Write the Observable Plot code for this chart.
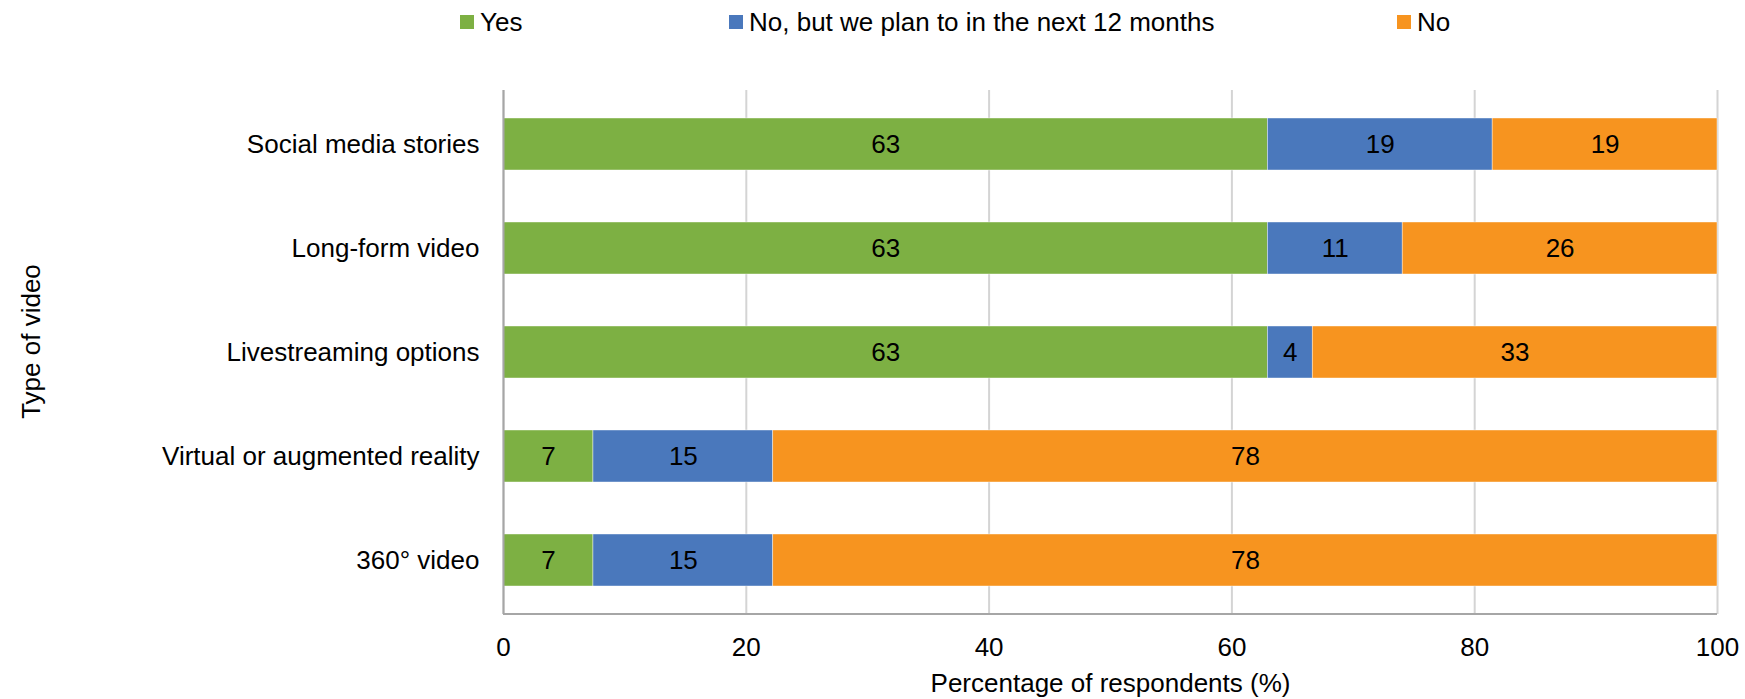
<!DOCTYPE html>
<html>
<head>
<meta charset="utf-8">
<script src="https://cdn.jsdelivr.net/npm/d3@7"></script>
<script src="https://cdn.jsdelivr.net/npm/@observablehq/plot@0.6"></script>
<style>
  body { margin: 0; background: white; font-family: 'Liberation Sans', Arial, sans-serif; }
  #legend { position: relative; width: 1745px; height: 45px; font-size: 26px; color: #000; }
  .item { position: absolute; top: 8px; display: flex; align-items: center; height: 28px; white-space: nowrap; }
  .sw { width: 14px; height: 14px; margin-right: 6px; }
</style>
</head>
<body>
<div id="legend"></div>
<div id="chart"></div>
<script>
const categories = ["Social media stories", "Long-form video", "Livestreaming options", "Virtual or augmented reality", "360° video"];
const responses = ["Yes", "No, but we plan to in the next 12 months", "No"];
const colors = ["#7DB043", "#4A78BC", "#F7941F"];
const yesValues = [62.96, 62.96, 62.96, 7.41, 7.41];
const planValues = [18.52, 11.11, 3.70, 14.81, 14.81];
const noValues = [18.52, 25.93, 33.33, 77.78, 77.78];
const xTicks = [0, 20, 40, 60, 80, 100];
const legendLeft = [460, 729, 1397];

const series = [yesValues, planValues, noValues];
const data = [];
categories.forEach((c, i) => {
  responses.forEach((r, j) => data.push({category: c, response: r, value: series[j][i]}));
});

// legend
const leg = document.getElementById("legend");
responses.forEach((r, j) => {
  const it = document.createElement("div");
  it.className = "item";
  it.style.left = legendLeft[j] + "px";
  const sw = document.createElement("div");
  sw.className = "sw";
  sw.style.background = colors[j];
  const tx = document.createElement("span");
  tx.textContent = r;
  it.appendChild(sw); it.appendChild(tx);
  leg.appendChild(it);
});

const bottomLine = (index, scales, values, dims) => {
  const g = d3.create("svg:line")
    .attr("x1", scales.x(0)).attr("x2", scales.x(100))
    .attr("y1", dims.height - dims.marginBottom).attr("y2", dims.height - dims.marginBottom)
    .attr("stroke", "#a6a6a6").attr("stroke-width", 2);
  return g.node();
};

const chart = Plot.plot({
  width: 1745,
  height: 654,
  marginTop: 45,
  marginBottom: 85,
  marginLeft: 503,
  marginRight: 28,
  style: {fontFamily: "'Liberation Sans', Arial, sans-serif", fontSize: "26px", color: "#000", background: "white", overflow: "visible"},
  x: {domain: [0, 100]},
  y: {domain: categories, paddingInner: 0.5, paddingOuter: 0.25},
  color: {domain: responses, range: colors},
  marks: [
    Plot.gridX(xTicks, {stroke: "#d4d4d4", strokeOpacity: 1, strokeWidth: 2}),
    Plot.barX(data, Plot.stackX({x: "value", y: "category", fill: "response", z: "response", stroke: "white", strokeWidth: 0.6, strokeOpacity: 0.7})),
    Plot.text(data, Plot.stackX({x: "value", y: "category", z: "response", text: d => String(Math.round(d.value)), fill: "#000", fontSize: 26})),
    Plot.ruleX([0], {stroke: "#a6a6a6", strokeWidth: 2}),
    bottomLine,
    Plot.axisY({tickSize: 0, tickPadding: 24, label: null, fontSize: 26}),
    Plot.axisX({ticks: xTicks, tickSize: 0, tickPadding: 23, label: null, fontSize: 26}),
    Plot.text(["Percentage of respondents (%)"], {frameAnchor: "bottom", dy: 77, lineAnchor: "bottom", fontSize: 26}),
    Plot.text(["Type of video"], {frameAnchor: "left", textAnchor: "middle", dx: -472, dy: -11, rotate: -90, fontSize: 26})
  ]
});
document.getElementById("chart").appendChild(chart);
</script>
</body>
</html>
